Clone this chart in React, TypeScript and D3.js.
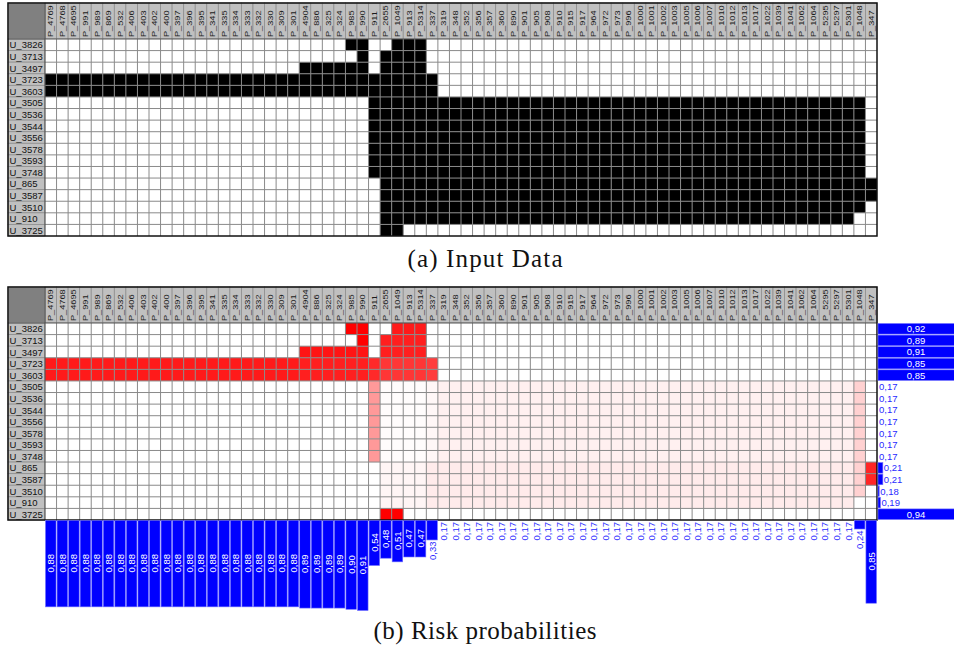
import React, { useEffect, useRef } from 'react'
import * as d3 from 'd3'

// users (rows) and permissions (columns) of the matrix
const users = ['U_3826', 'U_3713', 'U_3497', 'U_3723', 'U_3603', 'U_3505', 'U_3536', 'U_3544', 'U_3556', 'U_3578', 'U_3593', 'U_3748', 'U_865', 'U_3587', 'U_3510', 'U_910', 'U_3725']

const perms = ['P_4769', 'P_4768', 'P_4695', 'P_991', 'P_989', 'P_869', 'P_532', 'P_406', 'P_403', 'P_402', 'P_400', 'P_397', 'P_396', 'P_395', 'P_341', 'P_335', 'P_334', 'P_333', 'P_332', 'P_330', 'P_309', 'P_301', 'P_4904', 'P_886', 'P_325', 'P_324', 'P_985', 'P_990', 'P_911', 'P_2655', 'P_1049', 'P_913', 'P_5314', 'P_337', 'P_319', 'P_348', 'P_352', 'P_356', 'P_357', 'P_360', 'P_890', 'P_901', 'P_905', 'P_908', 'P_910', 'P_915', 'P_917', 'P_964', 'P_972', 'P_973', 'P_996', 'P_1000', 'P_1001', 'P_1002', 'P_1003', 'P_1005', 'P_1006', 'P_1007', 'P_1010', 'P_1012', 'P_1013', 'P_1017', 'P_1022', 'P_1039', 'P_1041', 'P_1062', 'P_1064', 'P_5295', 'P_5297', 'P_5301', 'P_1048', 'P_347']

// risk probability per user (right bars)
const userRisk = [0.92, 0.89, 0.91, 0.85, 0.85, 0.17, 0.17, 0.17, 0.17, 0.17, 0.17, 0.17, 0.21, 0.21, 0.18, 0.19, 0.94]

// risk probability per permission (bottom bars)
const permRisk = [
    0.88, 0.88, 0.88, 0.88, 0.88, 0.88, 0.88, 0.88, 0.88, 0.88, 0.88,
    0.88, 0.88, 0.88, 0.88, 0.88, 0.88, 0.88, 0.88, 0.88, 0.88, 0.88,
    0.89, 0.89, 0.89, 0.89, 0.9, 0.91, 0.54, 0.48, 0.51, 0.47, 0.47, 0.33,
    0.17, 0.17, 0.17, 0.17, 0.17, 0.17, 0.17, 0.17, 0.17, 0.17, 0.17, 0.17,
    0.17, 0.17, 0.17, 0.17, 0.17, 0.17, 0.17, 0.17, 0.17, 0.17, 0.17, 0.17,
    0.17, 0.17, 0.17, 0.17, 0.17, 0.17, 0.17, 0.17, 0.17, 0.17, 0.17, 0.17,
    0.24, 0.85
]

// assigned cells of the input matrix: [user, first perm, last perm]
const assigned: [string, string, string][] = [
    ['U_3826', 'P_985', 'P_990'], ['U_3826', 'P_1049', 'P_5314'],
    ['U_3713', 'P_990', 'P_990'], ['U_3713', 'P_2655', 'P_5314'],
    ['U_3497', 'P_4904', 'P_990'], ['U_3497', 'P_2655', 'P_5314'],
    ['U_3723', 'P_4769', 'P_337'], ['U_3603', 'P_4769', 'P_337'],
    ['U_3505', 'P_911', 'P_1048'], ['U_3536', 'P_911', 'P_1048'],
    ['U_3544', 'P_911', 'P_1048'], ['U_3556', 'P_911', 'P_1048'],
    ['U_3578', 'P_911', 'P_1048'], ['U_3593', 'P_911', 'P_1048'],
    ['U_3748', 'P_911', 'P_1048'],
    ['U_865', 'P_2655', 'P_347'], ['U_3587', 'P_2655', 'P_347'],
    ['U_3510', 'P_2655', 'P_1048'], ['U_910', 'P_2655', 'P_5301'],
    ['U_3725', 'P_2655', 'P_1049']
]

// cell risk shading of panel (b): [user, first perm, last perm, intensity]
const cellRisk: [string, string, string, number][] = [
    ['U_3826', 'P_985', 'P_990', 1], ['U_3826', 'P_1049', 'P_5314', 0.9],
    ['U_3713', 'P_990', 'P_990', 1], ['U_3713', 'P_2655', 'P_5314', 0.88],
    ['U_3497', 'P_4904', 'P_990', 0.92], ['U_3497', 'P_2655', 'P_5314', 0.88],
    ['U_3723', 'P_4769', 'P_301', 0.9], ['U_3723', 'P_4904', 'P_990', 0.88],
    ['U_3723', 'P_911', 'P_911', 0.84], ['U_3723', 'P_2655', 'P_5314', 0.79],
    ['U_3723', 'P_337', 'P_337', 0.76],
    ['U_3603', 'P_4769', 'P_301', 0.9], ['U_3603', 'P_4904', 'P_990', 0.88],
    ['U_3603', 'P_911', 'P_911', 0.84], ['U_3603', 'P_2655', 'P_5314', 0.79],
    ['U_3603', 'P_337', 'P_337', 0.76],
    ['U_3505', 'P_911', 'P_911', 0.4], ['U_3505', 'P_2655', 'P_5314', 0.01], ['U_3505', 'P_337', 'P_337', 0.03], ['U_3505', 'P_319', 'P_5301', 0.06], ['U_3505', 'P_1048', 'P_1048', 0.18],
    ['U_3536', 'P_911', 'P_911', 0.4], ['U_3536', 'P_2655', 'P_5314', 0.01], ['U_3536', 'P_337', 'P_337', 0.03], ['U_3536', 'P_319', 'P_5301', 0.06], ['U_3536', 'P_1048', 'P_1048', 0.18],
    ['U_3544', 'P_911', 'P_911', 0.4], ['U_3544', 'P_2655', 'P_5314', 0.01], ['U_3544', 'P_337', 'P_337', 0.03], ['U_3544', 'P_319', 'P_5301', 0.06], ['U_3544', 'P_1048', 'P_1048', 0.18],
    ['U_3556', 'P_911', 'P_911', 0.4], ['U_3556', 'P_2655', 'P_5314', 0.01], ['U_3556', 'P_337', 'P_337', 0.03], ['U_3556', 'P_319', 'P_5301', 0.06], ['U_3556', 'P_1048', 'P_1048', 0.18],
    ['U_3578', 'P_911', 'P_911', 0.4], ['U_3578', 'P_2655', 'P_5314', 0.01], ['U_3578', 'P_337', 'P_337', 0.03], ['U_3578', 'P_319', 'P_5301', 0.06], ['U_3578', 'P_1048', 'P_1048', 0.18],
    ['U_3593', 'P_911', 'P_911', 0.4], ['U_3593', 'P_2655', 'P_5314', 0.01], ['U_3593', 'P_337', 'P_337', 0.03], ['U_3593', 'P_319', 'P_5301', 0.06], ['U_3593', 'P_1048', 'P_1048', 0.18],
    ['U_3748', 'P_911', 'P_911', 0.4], ['U_3748', 'P_2655', 'P_5314', 0.01], ['U_3748', 'P_337', 'P_337', 0.03], ['U_3748', 'P_319', 'P_5301', 0.06], ['U_3748', 'P_1048', 'P_1048', 0.18],
    ['U_865', 'P_2655', 'P_5314', 0.04], ['U_865', 'P_337', 'P_5301', 0.08], ['U_865', 'P_1048', 'P_1048', 0.18], ['U_865', 'P_347', 'P_347', 0.85],
    ['U_3587', 'P_2655', 'P_5314', 0.04], ['U_3587', 'P_337', 'P_5301', 0.08], ['U_3587', 'P_1048', 'P_1048', 0.18], ['U_3587', 'P_347', 'P_347', 0.85],
    ['U_3510', 'P_2655', 'P_5314', 0.04], ['U_3510', 'P_337', 'P_5301', 0.08], ['U_3510', 'P_1048', 'P_1048', 0.18],
    ['U_910', 'P_2655', 'P_5314', 0.04], ['U_910', 'P_337', 'P_5301', 0.08],
    ['U_3725', 'P_2655', 'P_1049', 1]
]

const SANS = '"Liberation Sans", Arial, sans-serif'
const SERIF = '"Liberation Serif", "DejaVu Serif", serif'

const fmt = (v: number) => d3.format('.2f')(v).replace('.', ',')

const App: React.FC = () => {
    const ref = useRef<SVGSVGElement>(null)

    useEffect(() => {
        const svg = d3.select(ref.current)
        svg.selectAll('*').remove()

        const x = d3.scaleBand().domain(perms).range([45, 877])
        const bw = x.bandwidth()
        const permIdx = (p: string) => perms.indexOf(p)

        // expand the runs into cell lists
        const expand = (runs: any[]) => {
            const out: { u: string; p: string; v: number }[] = []
            runs.forEach((r) => {
                for (let i = permIdx(r[1]); i <= permIdx(r[2]); i++) {
                    out.push({ u: r[0], p: perms[i], v: r[3] ?? 1 })
                }
            })
            return out
        }
        const inputCells = expand(assigned)
        const riskCells = expand(cellRisk)
        const red = d3.interpolateRgb('#ffffff', '#ff0000')

        const drawPanel = (top: number, hb: number, bottom: number, cells: any[], color: (v: number) => string) => {
            const g = svg.append('g')
            const y = d3.scaleBand().domain(users).range([hb, bottom])
            const bh = y.bandwidth()

            // corner
            g.append('rect').attr('x', 8).attr('y', top).attr('width', 37).attr('height', hb - top)
                .attr('fill', '#808080').attr('stroke', '#b0b0b0').attr('stroke-width', 1)

            // column headers
            const hdr = g.append('g')
            hdr.selectAll('rect').data(perms).join('rect')
                .attr('x', (d) => x(d)!).attr('y', top).attr('width', bw).attr('height', hb - top)
                .attr('fill', '#c0c0c0').attr('stroke', '#8e8e8e').attr('stroke-width', 0.8)
            hdr.selectAll('text').data(perms).join('text')
                .attr('transform', (d) => `translate(${x(d)! + bw / 2 + 2.5}, ${hb - 2}) rotate(-90) scale(1, 0.72)`)
                .attr('font-family', SANS).attr('font-size', 9.2).attr('fill', '#1a1a1a')
                .text((d) => d)

            // row labels
            const rl = g.append('g')
            rl.selectAll('rect').data(users).join('rect')
                .attr('x', 8).attr('y', (d) => y(d)!).attr('width', 37).attr('height', bh)
                .attr('fill', '#c0c0c0').attr('stroke', '#8e8e8e').attr('stroke-width', 0.8)
            rl.selectAll('text').data(users).join('text')
                .attr('x', 9.5).attr('y', (d) => y(d)! + bh / 2 + 3.6)
                .attr('font-family', SANS).attr('font-size', 9.5).attr('fill', '#111')
                .text((d) => d)

            // empty grid
            const grid: { u: string; p: string }[] = []
            users.forEach((u) => perms.forEach((p) => grid.push({ u, p })))
            g.append('g').selectAll('rect').data(grid).join('rect')
                .attr('x', (d) => x(d.p)!).attr('y', (d) => y(d.u)!)
                .attr('width', bw).attr('height', bh)
                .attr('fill', '#fff')
            g.append('g').selectAll('rect').data(cells).join('rect')
                .attr('x', (d) => x(d.p)!).attr('y', (d) => y(d.u)!)
                .attr('width', bw).attr('height', bh)
                .attr('fill', (d) => color(d.v))

            // grid lines
            const lines = g.append('g').attr('stroke', '#8a8a8a').attr('stroke-width', 1)
            lines.selectAll('.v').data(perms.slice(1)).join('line')
                .attr('x1', (d) => x(d)!).attr('x2', (d) => x(d)!)
                .attr('y1', hb).attr('y2', bottom)
            lines.selectAll('.h').data(users.slice(1)).join('line')
                .attr('x1', 45).attr('x2', 877)
                .attr('y1', (d) => y(d)!).attr('y2', (d) => y(d)!)

            // separators and frame
            g.append('line').attr('x1', 8).attr('x2', 877).attr('y1', hb).attr('y2', hb)
                .attr('stroke', '#555').attr('stroke-width', 1.2)
            g.append('line').attr('x1', 45).attr('x2', 45).attr('y1', top).attr('y2', bottom)
                .attr('stroke', '#555').attr('stroke-width', 1.2)
            g.append('rect').attr('x', 8).attr('y', top).attr('width', 869).attr('height', bottom - top)
                .attr('fill', 'none').attr('stroke', '#111').attr('stroke-width', 1.5)
            return y
        }

        drawPanel(3, 39, 236, inputCells, () => '#000')
        const yB = drawPanel(287, 323, 520, riskCells, (v) => red(v))
        const bh = yB.bandwidth()

        // bar lengths: min probability maps to zero length
        const len = d3.scaleLinear().domain([0.17, 0.91]).range([0, 90])
        const labelW = 18
        const rightEdge = 954

        // bottom bars (permissions)
        const bb = svg.append('g')
        const pdata = perms.map((p, i) => ({ p, v: permRisk[i] }))
        bb.selectAll('rect').data(pdata).join('rect')
            .attr('x', (d) => x(d.p)! + 0.5).attr('y', 520.5)
            .attr('width', bw - 1).attr('height', (d) => len(d.v))
            .attr('fill', '#0000ff').attr('stroke', '#7070ff').attr('stroke-width', 0.6)
        bb.selectAll('text').data(pdata).join('text')
            .attr('transform', (d) => {
                const l = len(d.v)
                const cx = x(d.p)! + bw / 2 + 3.4
                return l >= labelW + 4
                    ? `translate(${cx}, ${520 + l / 2}) rotate(-90)`
                    : `translate(${cx}, ${520 + l + 2}) rotate(-90)`
            })
            .attr('text-anchor', (d) => (len(d.v) >= labelW + 4 ? 'middle' : 'end'))
            .attr('font-family', SANS).attr('font-size', 9.5)
            .attr('fill', (d) => (len(d.v) >= labelW + 4 ? '#fff' : '#2a2aff'))
            .text((d) => fmt(d.v))

        // right bars (users)
        const rb = svg.append('g')
        const udata = users.map((u, i) => ({ u, v: userRisk[i] }))
        rb.selectAll('rect').data(udata).join('rect')
            .attr('x', 878).attr('y', (d) => yB(d.u)! + 0.5)
            .attr('width', (d) => len(d.v)).attr('height', bh - 1)
            .attr('fill', '#0000ff').attr('stroke', '#7070ff').attr('stroke-width', 0.6)
        rb.selectAll('text').data(udata).join('text')
            .attr('x', (d) => {
                const l = len(d.v)
                return l >= labelW + 4 ? (878 + Math.min(878 + l, rightEdge)) / 2 : 879 + l
            })
            .attr('y', (d) => yB(d.u)! + bh / 2 + 3.5)
            .attr('text-anchor', (d) => (len(d.v) >= labelW + 4 ? 'middle' : 'start'))
            .attr('font-family', SANS).attr('font-size', 9.5)
            .attr('fill', (d) => (len(d.v) >= labelW + 4 ? '#fff' : '#2a2aff'))
            .text((d) => fmt(d.v))

        // captions
        svg.append('text').attr('x', 485).attr('y', 267).attr('text-anchor', 'middle')
            .attr('font-family', SERIF).attr('font-size', 25).attr('fill', '#111')
            .attr('textLength', 155).attr('lengthAdjust', 'spacing')
            .text('(a) Input Data')
        svg.append('text').attr('x', 485).attr('y', 639).attr('text-anchor', 'middle')
            .attr('font-family', SERIF).attr('font-size', 25).attr('fill', '#111')
            .attr('textLength', 223).attr('lengthAdjust', 'spacing')
            .text('(b) Risk probabilities')
    }, [])

    return (
        <svg
            ref={ref}
            width={954}
            height={648}
            viewBox='0 0 954 648'
            style={{ position: 'absolute', left: 0, top: 0, background: '#fff' }}
        />
    )
}

export default App
